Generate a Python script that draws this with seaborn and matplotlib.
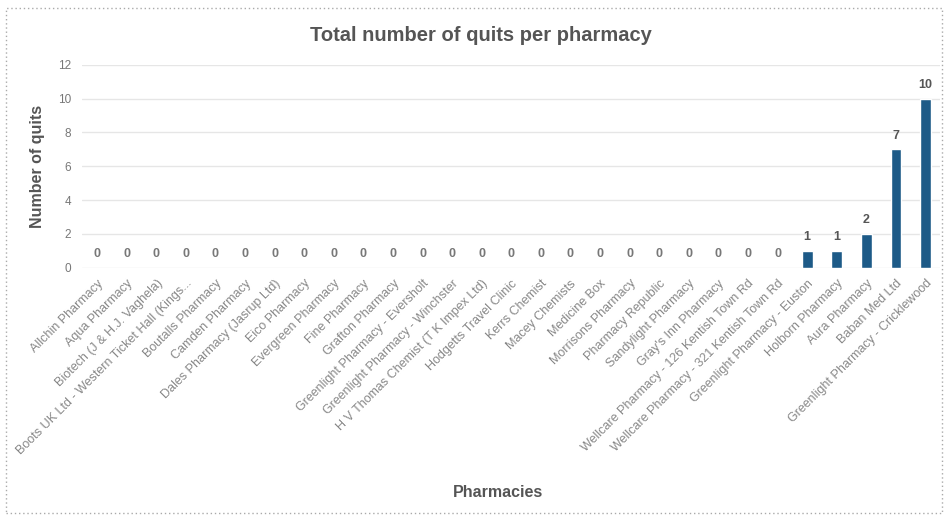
import matplotlib
matplotlib.use("Agg")
import matplotlib.pyplot as plt
import seaborn as sns
import pandas as pd
from matplotlib.patches import Rectangle

pharmacies = [
    "Allchin Pharmacy", "Aqua Pharmacy", "Biotech (J & H.J. Vaghela)",
    "Boots UK Ltd - Western Ticket Hall (Kings...", "Boutalls Pharmacy",
    "Camden Pharmacy", "Dales Pharmacy (Jasrup Ltd)", "Eico Pharmacy",
    "Evergreen Pharmacy", "Fine Pharmacy", "Grafton Pharmacy",
    "Greenlight Pharmacy - Eversholt", "Greenlight Pharmacy - Winchster",
    "H V Thomas Chemist (T K Impex Ltd)", "Hodgetts Travel Clinic",
    "Kerrs Chemist", "Macey Chemists", "Medicine Box", "Morrisons Pharmacy",
    "Pharmacy Republic", "Sandylight Pharmacy", "Gray's Inn Pharmacy",
    "Wellcare Pharmacy - 126 Kentish Town Rd",
    "Wellcare Pharmacy - 321 Kentish Town Rd",
    "Greenlight Pharmacy - Euston", "Holborn Pharmacy", "Aura Pharmacy",
    "Baban Med Ltd", "Greenlight Pharmacy - Cricklewood",
]
quits = [0] * 24 + [1, 1, 2, 7, 10]
y_ticks = [0, 2, 4, 6, 8, 10, 12]

df = pd.DataFrame({"Pharmacy": pharmacies, "Quits": quits})

sns.set_theme(style="white")
plt.rcParams["font.family"] = ["Liberation Sans", "DejaVu Sans"]

fig = plt.figure(figsize=(9.46, 5.18), dpi=100)
ax = fig.add_axes([0.087, 0.483, 0.907, 0.392])

sns.barplot(data=df, x="Pharmacy", y="Quits", color="#1d5a87", width=0.36,
            saturation=1, ax=ax)

ax.set_ylim(0, 12)
ax.set_yticks(y_ticks)
ax.set_yticklabels([str(t) for t in y_ticks], fontsize=8.5, color="#777777")
ax.yaxis.grid(True, color="#e6e6e6", linewidth=1)
ax.set_axisbelow(True)
for s in ax.spines.values():
    s.set_visible(False)
ax.tick_params(axis="both", length=0)
ax.tick_params(axis="y", pad=8)
ax.set_xticks(range(len(pharmacies)))
ax.set_xticklabels(pharmacies, rotation=45, ha="right", rotation_mode="anchor",
                   fontsize=9, color="#888888")
ax.tick_params(axis="x", pad=7)

for i, v in enumerate(quits):
    ax.text(i, v + 0.45, str(v), ha="center", va="bottom", fontsize=9,
            fontweight="bold", color="#555555" if v > 0 else "#777777")

ax.set_xlabel("Pharmacies", fontsize=11.5, fontweight="bold", color="#555555")
ax.xaxis.set_label_coords(0.485, -1.07)
ax.set_ylabel("Number of quits", fontsize=11.5, fontweight="bold", color="#555555")
ax.yaxis.set_label_coords(-0.044, 0.5)
fig.text(0.508, 0.932, "Total number of quits per pharmacy", ha="center",
         va="center", fontsize=14.5, fontweight="bold", color="#555555",
         fontstretch="condensed")

fig.patches.append(Rectangle((0.006, 0.01), 0.99, 0.975, transform=fig.transFigure,
                             fill=False, linestyle=(0, (1, 2)), edgecolor="#aaaaaa",
                             linewidth=1))

fig.savefig("out.png", dpi=100)
